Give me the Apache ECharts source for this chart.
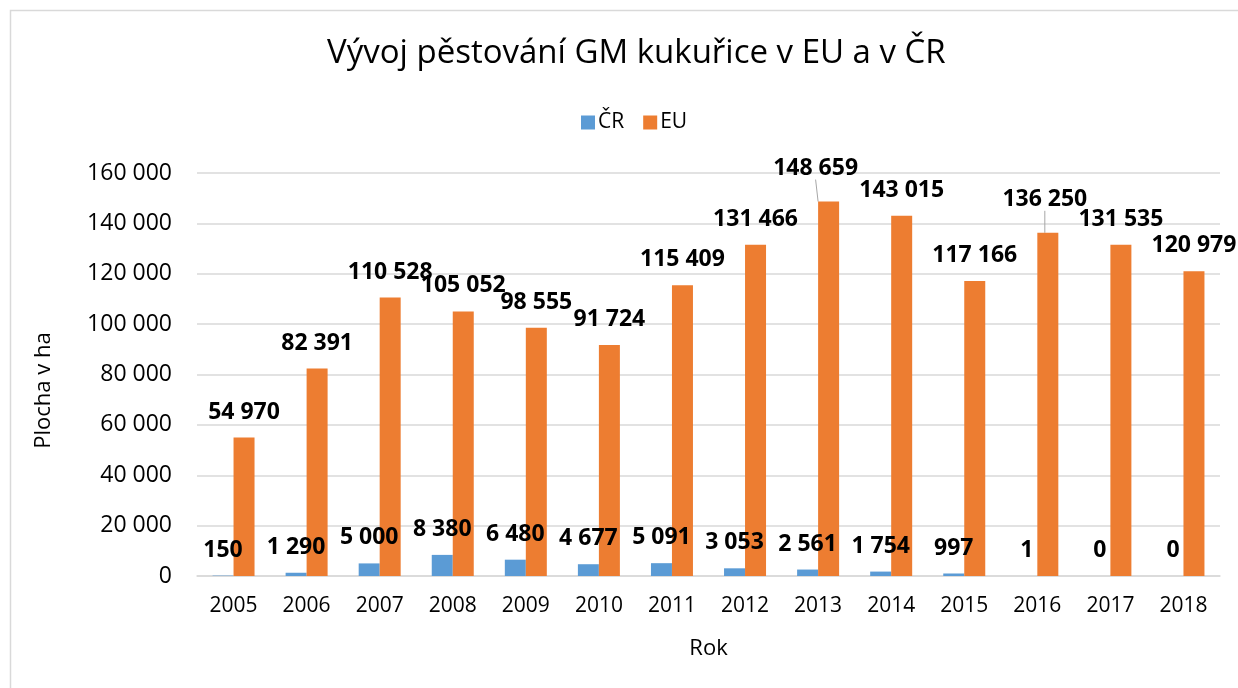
<!DOCTYPE html>
<html>
<head>
<meta charset="utf-8">
<script src="https://cdn.jsdelivr.net/npm/echarts@6/dist/echarts.min.js"></script>
<style>
  html, body { margin: 0; padding: 0; background: #fff; }
  #chart { width: 1238px; height: 688px; }
</style>
</head>
<body>
<div id="chart"></div>
<script>
  var years = ['2005', '2006', '2007', '2008', '2009', '2010', '2011', '2012', '2013', '2014', '2015', '2016', '2017', '2018'];
  var crValues = [150, 1290, 5000, 8380, 6480, 4677, 5091, 3053, 2561, 1754, 997, 1, 0, 0];
  var euValues = [54970, 82391, 110528, 105052, 98555, 91724, 115409, 131466, 148659, 143015, 117166, 136250, 131535, 120979];

  // labels moved off the bar in the original, with a leader line
  var movedLabels = { 8: [-13, -8], 11: [-3, -8] };

  function fmt(v) {
    return String(v).replace(/\B(?=(\d{3})+(?!\d))/g, ' ');
  }

  var font = 'Open Sans';
  var chart = echarts.init(document.getElementById('chart'));

  var euData = euValues.map(function (v, i) {
    if (movedLabels[i]) {
      return { value: v, labelLine: { show: true, lineStyle: { color: '#a6a6a6', width: 1 } } };
    }
    return v;
  });

  var option = {
    animation: false,
    color: ['#5B9BD5', '#ED7D31'],
    textStyle: { fontFamily: font },
    graphic: [{
      type: 'rect',
      shape: { x: 10.5, y: 10.5, width: 1400, height: 900 },
      style: { fill: 'none', stroke: '#d9d9d9', lineWidth: 1.5 },
      silent: true
    }],
    title: {
      text: 'Vývoj pěstování GM kukuřice v EU a v ČR',
      left: 322,
      top: 32,
      textStyle: { fontFamily: font, fontSize: 33, fontWeight: 'normal', color: '#000' }
    },
    legend: {
      data: ['ČR', 'EU'],
      top: 107,
      left: 576,
      itemWidth: 14,
      itemHeight: 14,
      itemGap: 19,
      icon: 'rect',
      textStyle: { fontFamily: font, fontSize: 21, color: '#000', padding: [0, 0, 0, -2] }
    },
    grid: {
      left: 197,
      right: 18,
      top: 173,
      bottom: 112
    },
    xAxis: {
      type: 'category',
      data: years,
      name: 'Rok',
      nameLocation: 'middle',
      nameGap: 62,
      nameTextStyle: { fontFamily: font, fontSize: 22, color: '#000' },
      axisTick: { show: false },
      axisLine: { lineStyle: { color: '#d9d9d9', width: 1.5 } },
      axisLabel: { fontFamily: font, fontSize: 21, color: '#000', margin: 20 }
    },
    yAxis: {
      type: 'value',
      min: 0,
      max: 160000,
      interval: 20000,
      name: 'Plocha v ha',
      nameLocation: 'middle',
      nameGap: 142,
      nameTextStyle: { fontFamily: font, fontSize: 22, color: '#000', padding: [0, 32, 0, 0] },
      axisLine: { show: false },
      axisTick: { show: false },
      splitLine: { lineStyle: { color: '#d9d9d9', width: 1.5 } },
      axisLabel: {
        fontFamily: font,
        fontSize: 23,
        color: '#000',
        margin: 25,
        formatter: function (v) { return fmt(v); }
      }
    },
    series: [{
      name: 'ČR',
      type: 'bar',
      barWidth: 21,
      barGap: '0%',
      data: crValues,
      label: {
        show: true,
        position: 'top',
        distance: 14,
        fontFamily: font,
        fontSize: 23,
        fontWeight: 'bold',
        color: '#000',
        formatter: function (p) { return fmt(p.value); }
      }
    }, {
      name: 'EU',
      type: 'bar',
      barWidth: 21,
      barGap: '0%',
      data: euData,
      label: {
        show: true,
        position: 'top',
        distance: 14,
        fontFamily: font,
        fontSize: 23,
        fontWeight: 'bold',
        color: '#000',
        formatter: function (p) { return fmt(p.value); }
      },
      labelLayout: function (params) {
        var m = movedLabels[params.dataIndex];
        if (m) {
          return { dx: m[0], dy: m[1] };
        }
        return {};
      }
    }]
  };

  chart.setOption(option);
</script>
</body>
</html>
